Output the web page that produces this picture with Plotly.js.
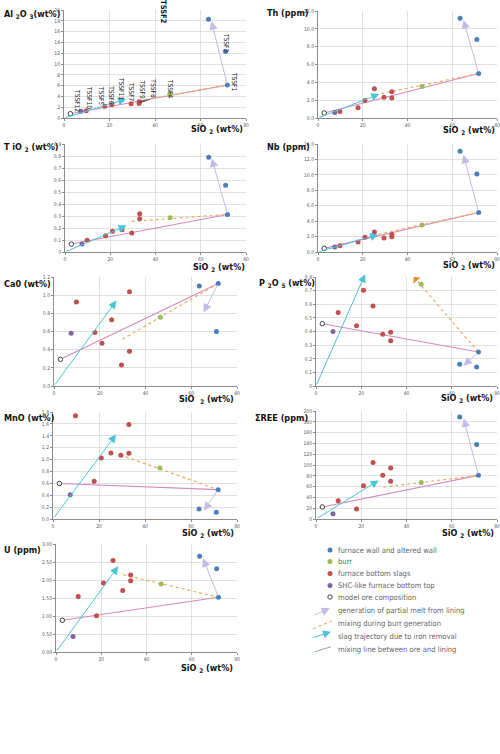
<!DOCTYPE html>
<html><head><meta charset="utf-8">
<script src="https://cdn.plot.ly/plotly-3.0.1.min.js"></script>
<style>html,body{margin:0;padding:0;background:#fff}#chart{width:500px;height:754px}</style>
</head><body><div id="chart"></div>
<script>
// ---------- DATA ----------
// SiO2 (wt%) per group
const wallSiO2 = [71.8, 63.5, 71.0];            // TSSF1, TSSF2, TSSF3
const burrSiO2 = [46.5];                         // TSSF4
const slagSiO2 = [17.9, 21.0, 29.5, 33.0, 33.0, 9.8, 25.2]; // TSSF5..TSSF11
const shcSiO2  = [7.5];                          // TSSF12
const oreSiO2  = [2.8];                          // model ore

// Al2O3 (wt%)
const alWall = [6.1, 18.3, 12.3], alBurr = [4.4], alSlag = [2.16, 2.47, 2.65, 3.0, 2.7, 1.36, 3.33], alShc = [1.23], alOre = [0.8];
// Th (ppm)
const thWall = [5.0, 11.2, 8.8], thBurr = [3.53], thSlag = [1.15, 1.97, 2.34, 2.94, 2.23, 0.74, 3.27], thShc = [0.63], thOre = [0.56];
// TiO2 (wt%)
const tiWall = [0.313, 0.79, 0.557], tiBurr = [0.285], tiSlag = [0.136, 0.172, 0.158, 0.318, 0.277, 0.097, 0.186], tiShc = [0.066], tiOre = [0.066];
// Nb (ppm)
const nbWall = [5.13, 13.06, 10.1], nbBurr = [3.49], nbSlag = [1.29, 1.9, 1.81, 2.28, 1.98, 0.82, 2.59], nbShc = [0.65], nbOre = [0.47];
// CaO (wt%)
const caWall = [1.129, 1.10, 0.60], caBurr = [0.757], caSlag = [0.588, 0.47, 0.23, 1.037, 0.382, 0.926, 0.728], caShc = [0.58], caOre = [0.294];
// P2O5 (wt%)
const pWall = [0.249, 0.159, 0.139], pBurr = [0.746], pSlag = [0.443, 0.702, 0.379, 0.394, 0.333, 0.54, 0.587], pShc = [0.40], pOre = [0.457];
// MnO (wt%)
const mnWall = [0.494, 0.169, 0.112], mnBurr = [0.86], mnSlag = [0.635, 1.028, 1.073, 1.59, 1.107, 1.736, 1.112], mnShc = [0.41], mnOre = [0.596];
// ΣREE (ppm)
const reeWall = [80.8, 189, 138], reeBurr = [67.8], reeSlag = [18.5, 61.7, 80.8, 94.3, 69.7, 33.9, 104.8], reeShc = [9.9], reeOre = [22.2];
// U (ppm)
const uWall = [1.52, 2.66, 2.31], uBurr = [1.89], uSlag = [1.01, 1.92, 1.71, 2.14, 1.98, 1.54, 2.54], uShc = [0.43], uOre = [0.88];

// trend arrows / lines: [SiO2, value]
const meltHeads  = [[64.8,17.9],[65,11.0],[64.9,0.78],[65,12.6],[65.4,0.81],[65.2,0.149],[65.6,0.14],[65.3,186],[65,2.6]];
const slagHeads  = [[27.3,3.5],[27.4,2.68],[27.2,0.22],[26.9,2.25],[27.3,0.94],[21.7,0.82],[27.4,1.42],[27.7,71.5],[27.5,2.38]];
const burrEnds   = [[33,3.2],[28.2,2.72],[29.5,0.255],[27,2.3],[29.9,0.515],[43.2,0.80],[29.2,1.08],[29.8,59],[29.7,2.15]];

const sampleLabels = ['TSSF1','TSSF2','TSSF3','TSSF4','TSSF5','TSSF6','TSSF7','TSSF8','TSSF9','TSSF10','TSSF11','TSSF12'];
const legendLabels = ['furnace wall and altered wall','burr','furnace bottom slags','SHC-like furnace bottom top','model ore composition',
  'generation of partial melt from lining','mixing during burr generation','slag trajectory due to iron removal','mixing line between ore and lining'];

// ---------- STYLE ----------
const W = 500, H = 754;
const FONT = '"Liberation Sans Narrow","Arial Narrow","DejaVu Sans Condensed",sans-serif';
const BLUE='#4a7ebb', GREEN='#9bbb59', RED='#c0504d', PURPLE='#8064a2', OREC='#404040';
const PINK='#d58abd', ORANGE='#f5a95e', CYAN='#4bc3d8', LAV='#c2bce6';

const panels = [
 {yt:'Al <sub>2</sub>O <sub>3</sub>(wt%)', d:[alWall,alBurr,alSlag,alShc,alOre], range:[0,20], dtick:2, fmt:'', box:[64,246,10,118], ytp:[2,15], xtp:[245,129]},
 {yt:'Th (ppm)', d:[thWall,thBurr,thSlag,thShc,thOre], range:[0,12], dtick:2, fmt:'.1f', box:[318,497,11,118], ytp:[265,13], xtp:[497,130]},
 {yt:'T iO <sub>2</sub> (wt%)', d:[tiWall,tiBurr,tiSlag,tiShc,tiOre], range:[0,0.9], dtick:0.1, fmt:'', box:[65,246,144,252], ytp:[2,147], xtp:[247,267]},
 {yt:'Nb (ppm)', d:[nbWall,nbBurr,nbSlag,nbShc,nbOre], range:[0,14], dtick:2, fmt:'.1f', box:[318,497,144,252], ytp:[265,147], xtp:[497,265]},
 {yt:'Ca0 (wt%)', d:[caWall,caBurr,caSlag,caShc,caOre], range:[0,1.2], dtick:0.2, fmt:'.1f', box:[54,237,277,386], ytp:[2,284], xtp:[236,399], xtxt:'SiO  <sub>2</sub> (wt%)'},
 {yt:'P <sub>2</sub>O <sub>5</sub> (wt%)', d:[pWall,pBurr,pSlag,pShc,pOre], range:[0,0.8], dtick:0.1, fmt:'', box:[316,497,277,386], ytp:[257,283], xtp:[495,398], burrArrow:true},
 {yt:'MnO (wt%)', d:[mnWall,mnBurr,mnSlag,mnShc,mnOre], range:[0,1.8], dtick:0.2, fmt:'.1f', box:[53,237,412,519], ytp:[2,418], xtp:[236,533]},
 {yt:'ΣREE (ppm)', d:[reeWall,reeBurr,reeSlag,reeShc,reeOre], range:[0,200], dtick:20, fmt:'', box:[316,497,411,519], ytp:[253,418], xtp:[496,533]},
 {yt:'U (ppm)', d:[uWall,uBurr,uSlag,uShc,uOre], range:[0,3], dtick:0.5, fmt:'.2f', box:[56,237,544,652], ytp:[2,550], xtp:[235,668]}
];

const traces = [], annotations = [], shapes = [];
const layout = {width:W, height:H, margin:{l:0,r:0,t:0,b:0}, paper_bgcolor:'#fff', plot_bgcolor:'#fff',
  showlegend:false, font:{family:FONT, color:'#222'}};
const px = v => v / W, py = v => 1 - v / H;

panels.forEach((p, k) => {
  const i = k + 1, id = i === 1 ? '' : String(i), xa = 'x' + id, ya = 'y' + id;
  const [x0, x1, y0, y1] = p.box;
  const common = {showgrid:true, gridcolor:'#d9d9d9', gridwidth:0.8, zeroline:false, showline:true, linecolor:'#8c8c8c',
    linewidth:1, ticks:'outside', ticklen:2, tickcolor:'#8c8c8c', tickfont:{size:5, color:'#595959', family:FONT}, fixedrange:true};
  layout['xaxis' + id] = Object.assign({}, common, {domain:[px(x0), px(x1)], range:[0,80], dtick:20, tick0:0, anchor:ya});
  layout['yaxis' + id] = Object.assign({}, common, {domain:[py(y1), py(y0)], range:p.range, dtick:p.dtick, tick0:0, tickformat:p.fmt, anchor:xa});
  const [wall, burr, slag, shc, ore] = p.d;
  const base = {xaxis:xa, yaxis:ya, hoverinfo:'skip', cliponaxis:false};
  traces.push(Object.assign({}, base, {x:[oreSiO2[0], wallSiO2[0]], y:[ore[0], wall[0]], mode:'lines', line:{color:PINK, width:1.1}}));
  const be = burrEnds[k];
  traces.push(Object.assign({}, base, {x:[be[0], wallSiO2[0]], y:[be[1], wall[0]], mode:'lines', line:{color:ORANGE, width:1.2, dash:'dot'}}));
  const mk = (xs, ys, c) => traces.push(Object.assign({}, base, {x:xs, y:ys, mode:'markers', marker:{size:5, color:c}}));
  mk(wallSiO2, wall, BLUE); mk(burrSiO2, burr, GREEN); mk(slagSiO2, slag, RED); mk(shcSiO2, shc, PURPLE);
  traces.push(Object.assign({}, base, {x:oreSiO2, y:ore, mode:'markers', marker:{size:4.5, color:'#fff', line:{color:OREC, width:1}}}));
  const arr = (head, tail, color, size) => annotations.push({xref:xa, yref:ya, axref:xa, ayref:ya, x:head[0], y:head[1],
    ax:tail[0], ay:tail[1], text:'', showarrow:true, arrowhead:2, arrowsize:size, arrowwidth:1, arrowcolor:color, standoff:0});
  arr(meltHeads[k], [wallSiO2[0], wall[0]], LAV, 1.7);
  arr(slagHeads[k], [0, 0], CYAN, 1.6);
  if (p.burrArrow) {
    const tx = be[0] + 0.06 * (wallSiO2[0] - be[0]), ty = be[1] + 0.06 * (wall[0] - be[1]);
    annotations.push({xref:xa, yref:ya, axref:xa, ayref:ya, x:be[0], y:be[1], ax:tx, ay:ty, text:'', showarrow:true,
      arrowhead:1, arrowsize:1.6, arrowwidth:1, arrowcolor:'#f08a24', standoff:0});
  }
  annotations.push({xref:'paper', yref:'paper', x:px(p.ytp[0]), y:py(p.ytp[1]), xanchor:'left', yanchor:'middle', showarrow:false,
    text:'<b>' + p.yt + '</b>', font:{size:9, color:'#111', family:FONT}});
  annotations.push({xref:'paper', yref:'paper', x:px(p.xtp[0]), y:py(p.xtp[1]), xanchor:'right', yanchor:'middle', showarrow:false,
    text:'<b>' + (p.xtxt || 'SiO <sub>2</sub> (wt%)') + '</b>', font:{size:9, color:'#111', family:FONT}});
});

// sample labels in Al2O3 panel (rotated)
const labelPos = [[74.7,6.7],[43.5,null],[71.2,13.9],[46.6,5.4],[16.3,4.1],[20.6,4.26],[29.7,4.9],[39.1,5.5],[34.5,5.2],[11,3.9],[25,5.4],[5.7,3.15]];
sampleLabels.forEach((s, j) => {
  const lp = labelPos[j];
  if (lp[1] === null) {
    annotations.push({xref:'x', yref:'paper', x:lp[0], y:py(12), text:'<b>' + s + '</b>', textangle:90, showarrow:false,
      font:{size:7.5, color:'#111', family:FONT}, xanchor:'center', yanchor:'middle'});
  } else {
    annotations.push({xref:'x', yref:'y', x:lp[0], y:lp[1], text:s, textangle:90, showarrow:false,
      font:{size:6.6, color:'#222', family:FONT}, xanchor:'center', yanchor:'middle'});
  }
});
annotations.push({xref:'x', yref:'y', axref:'x', ayref:'y', x:33.3, y:3.0, ax:36.5, ay:3.4, text:'', showarrow:true, arrowhead:0, arrowwidth:0.8, arrowcolor:'#333'});
annotations.push({xref:'x', yref:'y', axref:'x', ayref:'y', x:33.5, y:2.8, ax:38.5, ay:3.6, text:'', showarrow:true, arrowhead:0, arrowwidth:0.8, arrowcolor:'#333'});

// ---------- custom legend ----------
const legY = [550, 561.5, 573.5, 585.5, 597, 610, 623, 636, 649];
const legCols = [BLUE, GREEN, RED, PURPLE];
legendLabels.forEach((t, j) => {
  annotations.push({xref:'paper', yref:'paper', x:px(336), y:py(legY[j]), xanchor:'left', yanchor:'middle', showarrow:false,
    text:t, font:{size:7.6, color:'#666', family:FONT}});
});
for (let j = 0; j < 5; j++) {
  const cx = 330, cy = legY[j], r = j === 4 ? 2.2 : 2.5;
  shapes.push({type:'circle', xref:'paper', yref:'paper', x0:px(cx - r), x1:px(cx + r), y0:py(cy + r), y1:py(cy - r),
    fillcolor: j === 4 ? '#fff' : legCols[j], line:{color: j === 4 ? OREC : legCols[j], width: j === 4 ? 1 : 0}});
}
annotations.push({xref:'paper', yref:'paper', x:px(330), y:py(608.3), ax:-17, ay:7.4, axref:'pixel', ayref:'pixel', text:'', showarrow:true, arrowhead:2, arrowsize:1.7, arrowwidth:1, arrowcolor:LAV, standoff:0});
shapes.push({type:'line', xref:'paper', yref:'paper', x0:px(313), y0:py(628.7), x1:px(331.5), y1:py(621), line:{color:ORANGE, width:1.2, dash:'dot'}});
annotations.push({xref:'paper', yref:'paper', x:px(331), y:py(631.7), ax:-19, ay:6.3, axref:'pixel', ayref:'pixel', text:'', showarrow:true, arrowhead:2, arrowsize:1.6, arrowwidth:1, arrowcolor:CYAN, standoff:0});
shapes.push({type:'line', xref:'paper', yref:'paper', x0:px(315), y0:py(651.7), x1:px(331), y1:py(646.7), line:{color:'#8fae9a', width:1}});

layout.annotations = annotations;
layout.shapes = shapes;
Plotly.newPlot('chart', traces, layout, {staticPlot:true, displayModeBar:false});
</script>
</body></html>
